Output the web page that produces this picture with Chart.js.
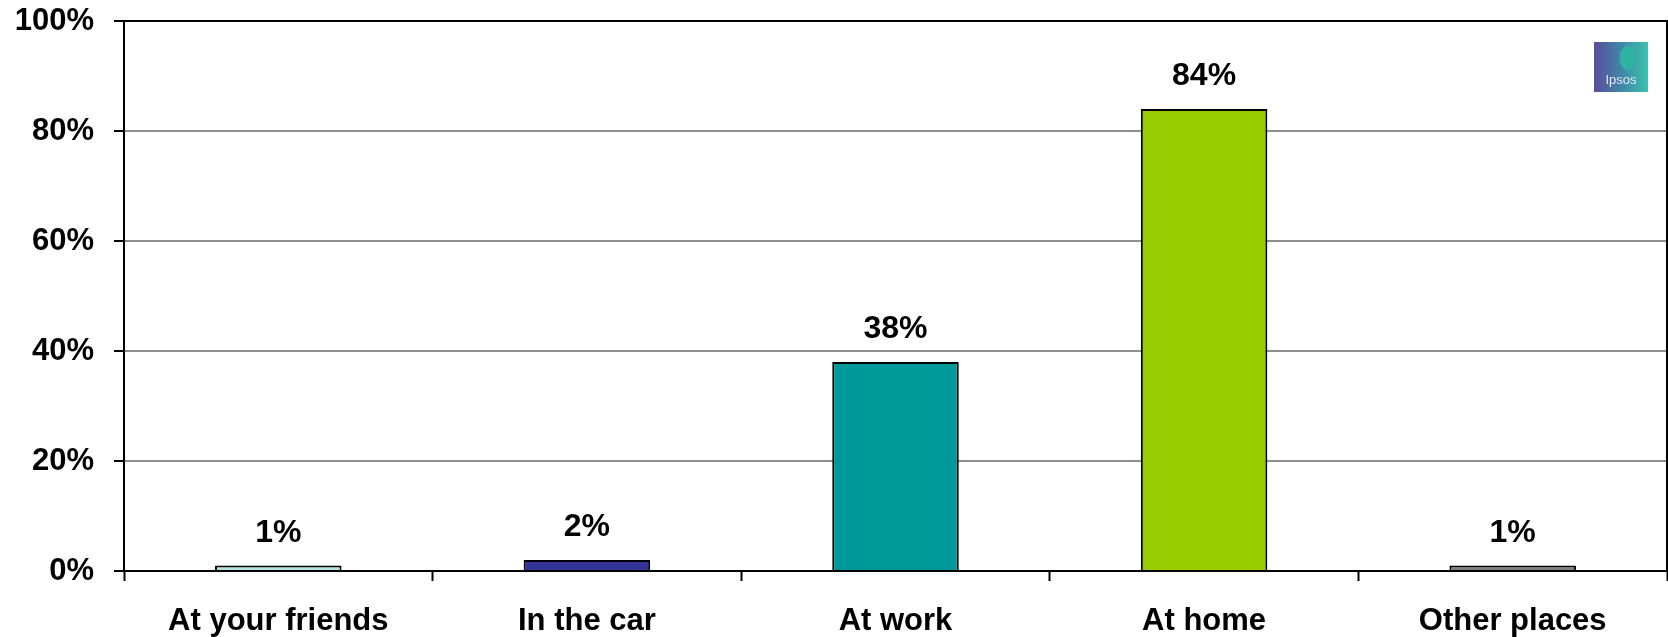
<!DOCTYPE html>
<html>
<head>
<meta charset="utf-8">
<title>Where do you use it</title>
<script src="https://cdn.jsdelivr.net/npm/chart.js@4/dist/chart.umd.min.js"></script>
<style>
  html, body { margin: 0; padding: 0; background: #fff; }
  #wrap { width: 1668px; height: 637px; position: relative; }
</style>
</head>
<body>
<div id="wrap"><canvas id="placesChart"></canvas></div>
<script>
// Chart data
const categories = ['At your friends', 'In the car', 'At work', 'At home', 'Other places'];
const shares = [1, 2, 38, 84, 1];
const barColors = ['#b7e1e1', '#333399', '#009999', '#99cc00', '#808080'];
const yTicks = [0, 20, 40, 60, 80, 100];

const FONT = '"Liberation Sans", Arial, sans-serif';

// Value labels above each bar
const valueLabels = {
    id: 'valueLabels',
    afterDatasetsDraw(chart) {
        const ctx = chart.ctx;
        const meta = chart.getDatasetMeta(0);
        ctx.save();
        ctx.font = 'bold 32px ' + FONT;
        ctx.fillStyle = '#000';
        ctx.textAlign = 'center';
        ctx.textBaseline = 'alphabetic';
        meta.data.forEach(function(bar, i) {
            ctx.fillText(shares[i] + '%', bar.x, bar.y - 24);
        });
        ctx.restore();
    }
};

// Frame (top and right edges) plus the little logo in the corner
const frame = {
    id: 'frame',
    afterDraw(chart) {
        const ctx = chart.ctx;
        const a = chart.chartArea;
        ctx.save();
        ctx.strokeStyle = '#000';
        ctx.lineWidth = 2;
        ctx.beginPath();
        ctx.moveTo(a.left, a.top);
        ctx.lineTo(a.right, a.top);
        ctx.lineTo(a.right, a.bottom);
        ctx.stroke();

        // logo
        const lx = a.right - 73, ly = a.top + 21, lw = 54, lh = 50;
        const g = ctx.createLinearGradient(lx, ly, lx + lw, ly);
        g.addColorStop(0, '#5a4c9c');
        g.addColorStop(0.5, '#3f86a8');
        g.addColorStop(1, '#3cc2ad');
        ctx.fillStyle = g;
        ctx.fillRect(lx, ly, lw, lh);
        ctx.fillStyle = '#2fb3a0';
        ctx.beginPath();
        ctx.ellipse(lx + lw * 0.62, ly + 16, 8, 12, 0, 0, Math.PI * 2);
        ctx.fill();
        ctx.fillStyle = '#e8e6f4';
        ctx.font = '13px ' + FONT;
        ctx.textAlign = 'center';
        ctx.fillText('Ipsos', lx + lw / 2, ly + lh - 8);
        ctx.restore();
    }
};

document.addEventListener('DOMContentLoaded', function() {
    const ctxPlaces = document.getElementById('placesChart');
    new Chart(ctxPlaces, {
        type: 'bar',
        data: {
            labels: categories,
            datasets: [{
                data: shares,
                backgroundColor: barColors,
                borderColor: '#000',
                borderWidth: 2,
                borderSkipped: 'start',
                categoryPercentage: 1,
                barPercentage: 0.41
            }]
        },
        options: {
            responsive: true,
            maintainAspectRatio: false,
            animation: false,
            layout: { padding: { top: 21, right: 1, bottom: 0, left: 0 } },
            scales: {
                x: {
                    afterFit: function(axis) { axis.height = 66; },
                    grid: {
                        offset: true,
                        drawOnChartArea: false,
                        drawTicks: true,
                        tickLength: 10,
                        tickWidth: 2,
                        tickColor: '#000'
                    },
                    border: { display: true, color: '#000', width: 2 },
                    ticks: {
                        color: '#000',
                        padding: 25,
                        font: { family: FONT, size: 31, weight: 'bold', lineHeight: 1 }
                    }
                },
                y: {
                    min: 0,
                    max: 100,
                    afterBuildTicks: function(axis) {
                        axis.ticks = yTicks.map(function(v) { return { value: v }; });
                    },
                    afterFit: function(axis) {
                        axis.width = 124;
                        axis.paddingTop = 0;
                        axis.paddingBottom = 0;
                    },
                    grid: {
                        color: function(c) { return c.tick && c.tick.value === 100 ? '#000' : '#8e8e8e'; },
                        lineWidth: 2,
                        tickLength: 10,
                        tickWidth: 2,
                        tickColor: '#000'
                    },
                    border: { display: true, color: '#000', width: 2 },
                    ticks: {
                        color: '#000',
                        padding: 20,
                        callback: function(v) { return v + '%'; },
                        font: { family: FONT, size: 31, weight: 'bold', lineHeight: 1 }
                    }
                }
            },
            plugins: {
                legend: { display: false },
                tooltip: { enabled: false }
            }
        },
        plugins: [valueLabels, frame]
    });
});
</script>
</body>
</html>
